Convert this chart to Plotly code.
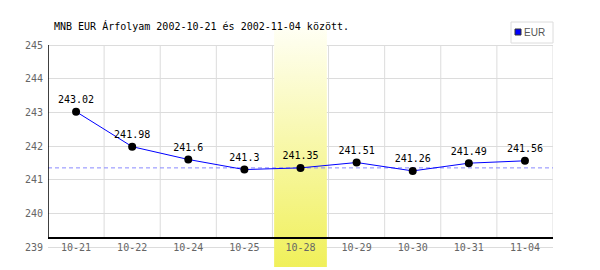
import plotly.graph_objects as go

# ---- data ----
dates = ["10-21", "10-22", "10-24", "10-25", "10-28", "10-29", "10-30", "10-31", "11-04"]
rates = [243.02, 241.98, 241.6, 241.3, 241.35, 241.51, 241.26, 241.49, 241.56]
y_ticks = [239, 240, 241, 242, 243, 244, 245]
highlight_date = "10-28"
series_name = "EUR"
title_text = "MNB EUR Árfolyam 2002-10-21 és 2002-11-04 között."

# ---- layout geometry (pixels) ----
W, H = 600, 270
L, R, T, B = 48, 47, 28, 3
plot_w = W - L - R
plot_h = H - T - B
px_top_tick = 45      # pixel row of the top tick (245)
px_bot_tick = 247     # pixel row of the bottom tick (239)
px_axis = 238         # pixel row of black x axis line
upp = (y_ticks[-1] - y_ticks[0]) / (px_bot_tick - px_top_tick)  # units per px
y_hi = y_ticks[-1] + (px_top_tick - T) * upp
y_lo = y_ticks[0] - (H - B - px_bot_tick) * upp
y_axis_val = y_ticks[-1] - (px_axis - px_top_tick) * upp

def pxx(px):
    return (px - L) / plot_w

def pxy(py):
    return (H - B - py) / plot_h

n = len(dates)
xs = list(range(n))
hi = dates.index(highlight_date)
ref_val = rates[hi]
mono = "DejaVu Sans Mono"

fig = go.Figure()

# highlight band with vertical gradient
fig.add_trace(go.Scatter(
    x=[hi - 0.47, hi + 0.47, hi + 0.47, hi - 0.47, hi - 0.47],
    y=[y_lo, y_lo, y_hi, y_hi, y_lo],
    mode="lines", line=dict(width=0), fill="toself",
    fillgradient=dict(type="vertical",
                      colorscale=[[0, "#f0f05a"], [1, "#fffff4"]]),
    hoverinfo="skip", showlegend=False,
))

# reference dashed line at highlighted value
fig.add_trace(go.Scatter(
    x=[-0.5, n - 0.5], y=[ref_val, ref_val], mode="lines",
    line=dict(color="#8888ff", width=1, dash="4px,3px"),
    hoverinfo="skip", showlegend=False,
))

# data series
fig.add_trace(go.Scatter(
    x=xs, y=rates, mode="lines+markers+text",
    line=dict(color="#0000ff", width=1),
    marker=dict(color="#000000", size=8),
    text=[f"{v:g}" for v in rates], textposition="top center",
    textfont=dict(family=mono, size=10, color="#000000"),
    showlegend=False, name=series_name,
))

shapes = []
# vertical gridlines at category boundaries
for i in range(n):
    shapes.append(dict(type="line", xref="x", yref="y",
                       x0=i + 0.5, x1=i + 0.5, y0=y_axis_val, y1=y_ticks[-1],
                       line=dict(color="#dcdcdc", width=1), layer="below"))
# y axis black line
shapes.append(dict(type="line", xref="x", yref="y", x0=-0.5, x1=-0.5,
                   y0=y_axis_val, y1=y_ticks[-1],
                   line=dict(color="#000000", width=1.5), layer="above"))
# legend box and swatch
shapes.append(dict(type="rect", xref="paper", yref="paper",
                   x0=pxx(511), x1=pxx(553), y0=pxy(43), y1=pxy(22),
                   line=dict(color="#dcdcdc", width=1), fillcolor="#ffffff",
                   layer="above"))
shapes.append(dict(type="rect", xref="paper", yref="paper",
                   x0=pxx(515), x1=pxx(521), y0=pxy(35), y1=pxy(29),
                   line=dict(color="#333333", width=1), fillcolor="#0000ff",
                   layer="above"))

annotations = [
    dict(text=title_text, xref="paper", yref="paper", x=pxx(52), y=pxy(26),
         xanchor="left", yanchor="middle", showarrow=False,
         font=dict(family=mono, size=10, color="#000000")),
    dict(text=series_name, xref="paper", yref="paper", x=pxx(522), y=pxy(32.5),
         xanchor="left", yanchor="middle", showarrow=False,
         font=dict(family="Liberation Sans", size=10, color="#555555")),
]

fig.update_layout(
    width=W, height=H,
    margin=dict(l=L, r=R, t=T, b=B),
    paper_bgcolor="#ffffff", plot_bgcolor="#ffffff",
    shapes=shapes, annotations=annotations,
    xaxis=dict(
        range=[-0.5, n - 0.5], tickvals=xs, ticktext=dates,
        showgrid=False, zeroline=False,
        anchor="free", position=pxy(px_axis),
        showline=True, linecolor="#000000", linewidth=1.5,
        ticks="", tickfont=dict(family=mono, size=10, color="#666666"),
        fixedrange=True,
    ),
    yaxis=dict(
        range=[y_lo, y_hi], tickvals=y_ticks, ticktext=[str(t) for t in y_ticks],
        showgrid=True, gridcolor="#dcdcdc", gridwidth=1, zeroline=False,
        showline=False, ticks="", ticklabelstandoff=4,
        tickfont=dict(family=mono, size=10, color="#666666"),
        fixedrange=True,
    ),
)

fig.write_html("out.html")
